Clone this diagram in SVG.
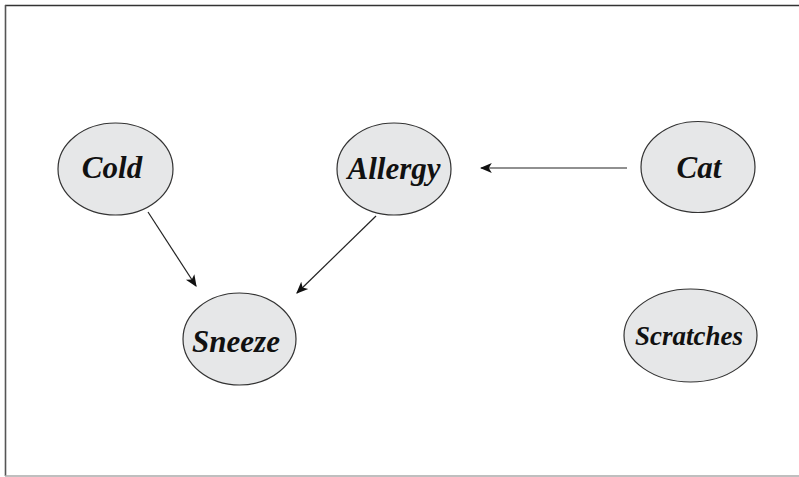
<svg xmlns="http://www.w3.org/2000/svg" width="799" height="477" viewBox="0 0 799 477">
  <defs>
    <marker id="arrow" viewBox="0 0 10 10" refX="9" refY="5" markerWidth="12" markerHeight="12" markerUnits="userSpaceOnUse" orient="auto">
      <path d="M0,0.8 L10,5 L0,9.2 L2.5,5 Z" fill="#111"/>
    </marker>
    <style>
      .node ellipse { fill: #e6e7e8; stroke: #333; stroke-width: 1.2; }
      .node text { font-family: "Liberation Serif", "Times New Roman", serif; font-style: italic; font-weight: bold; font-size: 31px; fill: #111; text-anchor: middle; }
      .edge { stroke: #222; stroke-width: 1.2; fill: none; marker-end: url(#arrow); }
    </style>
  </defs>

  <rect width="799" height="477" fill="#fff"/>
  <!-- frame -->
  <line x1="5" y1="5.5" x2="799" y2="5.5" stroke="#333" stroke-width="1.6"/>
  <line x1="5.5" y1="5" x2="5.5" y2="476" stroke="#555" stroke-width="1.6"/>
  <line x1="5" y1="476" x2="799" y2="476" stroke="#aaa" stroke-width="1.4"/>

  <g id="connectors">
    <line class="edge" x1="148" y1="212" x2="196" y2="286"/>
    <line class="edge" x1="376" y1="216" x2="297" y2="293"/>
    <line class="edge" x1="627" y1="168" x2="481" y2="168"/>
  </g>

  <g id="cold" class="node">
    <ellipse cx="115.5" cy="169" rx="57.5" ry="46"/>
    <text x="112" y="178">Cold</text>
  </g>
  <g id="allergy" class="node">
    <ellipse cx="394" cy="169" rx="57" ry="46"/>
    <text x="394" y="179">Allergy</text>
  </g>
  <g id="cat" class="node">
    <ellipse cx="698" cy="167" rx="57" ry="45.5"/>
    <text x="699" y="178">Cat</text>
  </g>
  <g id="sneeze" class="node">
    <ellipse cx="239.5" cy="339" rx="56.5" ry="46"/>
    <text x="236" y="352">Sneeze</text>
  </g>
  <g id="scratches" class="node">
    <ellipse cx="690.5" cy="335.5" rx="66.5" ry="46.5"/>
    <text x="689" y="345" style="font-size:27px">Scratches</text>
  </g>
</svg>
